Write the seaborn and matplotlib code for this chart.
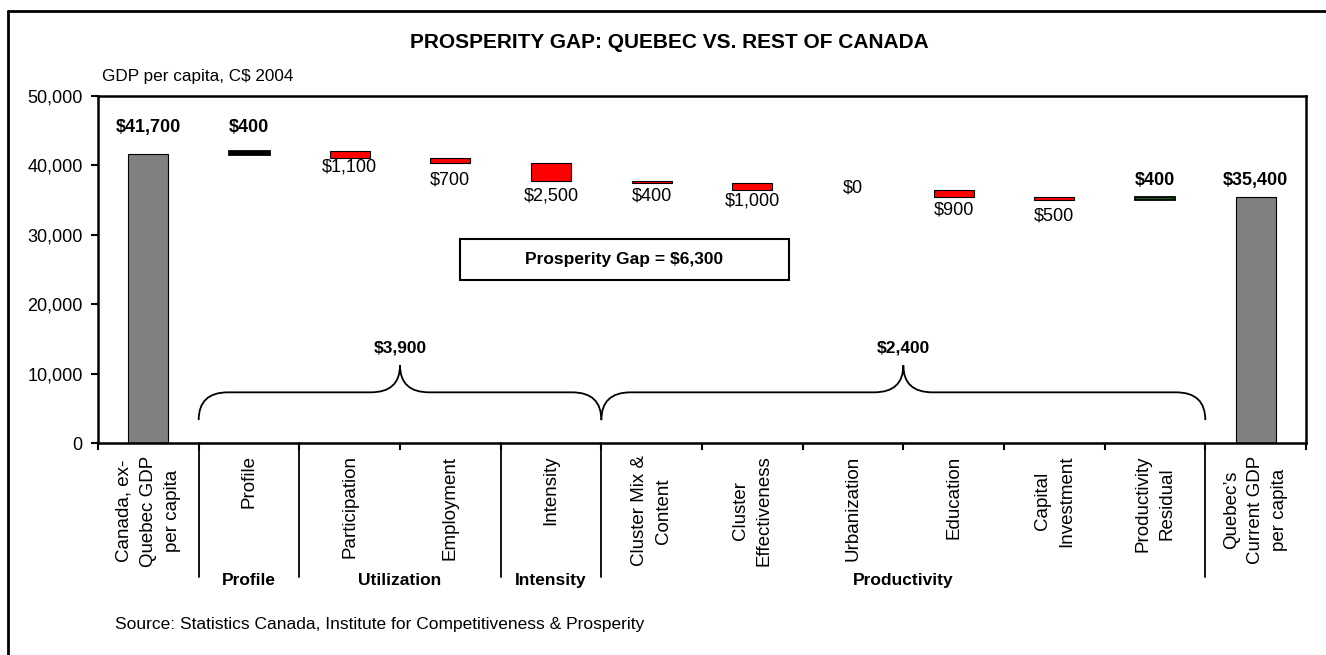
import numpy as np
import pandas as pd
import matplotlib
matplotlib.use("Agg")
import matplotlib.pyplot as plt
import matplotlib.transforms as mtransforms
from matplotlib.patches import Rectangle, PathPatch
from matplotlib.path import Path
from matplotlib.lines import Line2D
import seaborn as sns

# chart data
categories = [
    "Canada, ex-\nQuebec GDP\nper capita", "Profile", "Participation",
    "Employment", "Intensity", "Cluster Mix &\nContent", "Cluster\nEffectiveness",
    "Urbanization", "Education", "Capital\nInvestment", "Productivity\nResidual",
    "Quebec\u2019s\nCurrent GDP\nper capita",
]
start_gdp = 41700
changes = [400, -1100, -700, -2500, -400, -1000, 0, -900, -500, 400]
end_gdp = 35400

groups = ["Profile", "Utilization", "Intensity", "Productivity"]
group_sizes = [1, 2, 1, 6]
# braces cover changes[0:4] and changes[4:10]
brace_ranges = [(0, 4), (4, 10)]

# styling per bar
bar_colors = ["#808080", "#000000", "#ff0000", "#ff0000", "#ff0000", "#ff0000",
              "#ff0000", "#ff0000", "#ff0000", "#ff0000", "#1f5a1f", "#808080"]
label_offsets = [19, 17, -6.5, -12, -11, -9, -8, 2, -9.5, -11.5, 12, 12]


def draw_brace(ax, x0, x1, y_tip, y_mid, y_peak, w):
    xm = (x0 + x1) / 2
    verts = [(x0, y_tip), (x0, y_mid), (x0 + w, y_mid),
             (xm - w, y_mid), (xm, y_mid), (xm, y_peak),
             (xm, y_mid), (xm + w, y_mid),
             (x1 - w, y_mid), (x1, y_mid), (x1, y_tip)]
    codes = [Path.MOVETO, Path.CURVE3, Path.CURVE3,
             Path.LINETO, Path.CURVE3, Path.CURVE3,
             Path.CURVE3, Path.CURVE3,
             Path.LINETO, Path.CURVE3, Path.CURVE3]
    ax.add_patch(PathPatch(Path(verts, codes), fill=False, lw=1.3,
                           edgecolor="black", clip_on=False))
    return xm


def main():
    sns.set_style("white")
    plt.rcParams["font.family"] = ["Liberation Sans", "DejaVu Sans"]
    plt.rcParams["text.color"] = "black"
    plt.rcParams["xtick.color"] = "black"
    plt.rcParams["ytick.color"] = "black"
    plt.rcParams["axes.labelcolor"] = "black"

    levels = np.cumsum([start_gdp] + changes)
    bottoms = [0] + [min(levels[i], levels[i + 1]) for i in range(len(changes))] + [0]
    heights = [start_gdp] + [abs(c) for c in changes] + [end_gdp]
    df = pd.DataFrame({"category": categories, "height": heights, "bottom": bottoms})

    fig = plt.figure(figsize=(13.26, 6.55), dpi=100)
    ax = fig.add_axes([98 / 1326, 1 - 443 / 655, 1208 / 1326, 347 / 655])

    sns.barplot(data=df, x="category", y="height", order=categories,
                bottom=df["bottom"].values, width=0.4, errorbar=None,
                color="#808080", saturation=1,
                edgecolor="black", linewidth=0.8, ax=ax)

    for i, (patch, col) in enumerate(zip(ax.patches, bar_colors)):
        patch.set_facecolor(col)
        if i == 1:
            patch.set_linewidth(2.0)
        if i == len(categories) - 2:
            patch.set_linewidth(1.3)
        if heights[i] == 0:
            patch.set_visible(False)

    # value labels
    vals = [start_gdp] + changes + [end_gdp]
    for i, v in enumerate(vals):
        is_total = i == 0 or i == len(vals) - 1
        if is_total or v > 0:
            y = bottoms[i] + heights[i]
            weight = "bold"
        elif v < 0:
            y = bottoms[i]
            weight = "normal"
        else:
            y = levels[i]
            weight = "normal"
        ax.annotate(f"${abs(v):,}", (i, y), xytext=(0, label_offsets[i]),
                    textcoords="offset points", ha="center", va="center",
                    fontsize=13, fontweight=weight)

    ax.set_xlim(-0.5, len(categories) - 0.5)
    ax.set_ylim(0, 50000)
    ax.set_yticks(np.arange(0, 50001, 10000))
    ax.set_yticklabels([f"{t:,}" for t in range(0, 50001, 10000)], fontsize=13)
    ax.set_xlabel("")
    ax.set_ylabel("")
    ax.tick_params(axis="y", direction="out", length=5, width=1.5, pad=6, left=True)
    ax.tick_params(axis="x", which="major", length=0, pad=9, labelsize=13.5,
                   labelrotation=90)
    for lab in ax.get_xticklabels():
        lab.set_linespacing(1.55)
    ax.set_xticks(np.arange(-0.5, len(categories), 1), minor=True)
    ax.tick_params(axis="x", which="minor", direction="out", length=5, width=1.5,
                   bottom=True)
    for s in ax.spines.values():
        s.set_visible(True)
        s.set_linewidth(1.8)
        s.set_color("black")

    # group separators and names below the axis
    trans = mtransforms.blended_transform_factory(ax.transData, ax.transAxes)
    edges = 0.5 + np.concatenate([[0], np.cumsum(group_sizes)])
    for b in edges:
        ax.plot([b, b], [0, -0.386], color="black", lw=1.3, transform=trans,
                clip_on=False)
    for name, lo, hi in zip(groups, edges[:-1], edges[1:]):
        ax.text((lo + hi) / 2, -0.395, name, transform=trans, ha="center",
                va="center", fontsize=12.5, fontweight="bold")

    # braces with group totals
    for lo, hi in brace_ranges:
        total = sum(changes[lo:hi])
        xm = draw_brace(ax, lo + 0.5, hi + 0.5, 3300, 7300, 11200, 0.29)
        ax.text(xm, 13700, f"${abs(total):,}", ha="center", va="center",
                fontsize=12.5, fontweight="bold")

    # prosperity gap box
    gap = start_gdp - end_gdp
    ax.add_patch(Rectangle((3.1, 23500), 3.26, 5900, facecolor="white",
                           edgecolor="black", lw=1.5))
    ax.text(4.73, 26450, f"Prosperity Gap = ${gap:,}", ha="center", va="center",
            fontsize=12.5, fontweight="bold")

    # titles and notes
    fig.text(669 / 1326, 1 - 43 / 655, "PROSPERITY GAP: QUEBEC VS. REST OF CANADA",
             ha="center", va="center", fontsize=15, fontweight="bold")
    fig.text(102 / 1326, 1 - 76 / 655, "GDP per capita, C$ 2004", ha="left",
             va="center", fontsize=12.3)
    fig.text(115 / 1326, 1 - 624 / 655,
             "Source: Statistics Canada, Institute for Competitiveness & Prosperity",
             ha="left", va="center", fontsize=12.5)

    # outer frame (left and top edges visible)
    fx, fy = 8 / 1326, 1 - 11 / 655
    fig.add_artist(Line2D([fx, fx], [0, fy], color="black", lw=2, transform=fig.transFigure))
    fig.add_artist(Line2D([fx, 1], [fy, fy], color="black", lw=2, transform=fig.transFigure))

    fig.savefig("out.png", dpi=100)
    plt.close(fig)


if __name__ == "__main__":
    main()
